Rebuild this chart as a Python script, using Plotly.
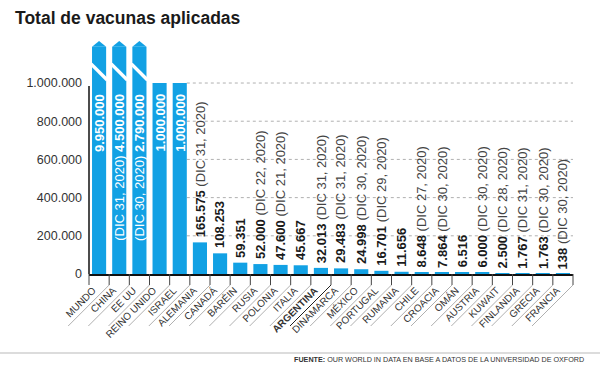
import plotly.graph_objects as go

# ---------------- data ----------------
countries = ["MUNDO", "CHINA", "EE UU", "REINO UNIDO", "ISRAEL", "ALEMANIA", "CANADÁ",
             "BARÉIN", "RUSIA", "POLONIA", "ITALIA", "ARGENTINA", "DINAMARCA", "MÉXICO",
             "PORTUGAL", "RUMANIA", "CHILE", "CROACIA", "OMÁN", "AUSTRIA", "KUWAIT",
             "FINLANDIA", "GRECIA", "FRANCIA"]
values = [9950000, 4500000, 2790000, 1000000, 1000000, 165575, 108253, 59351, 52000,
          47600, 45667, 32013, 29483, 24998, 16701, 11656, 8648, 7864, 6516, 6000,
          2500, 1767, 1763, 138]
dates = ["", "DIC 31, 2020", "DIC 30, 2020", "", "", "DIC 31, 2020", "", "",
         "DIC 22, 2020", "DIC 21, 2020", "", "DIC 31, 2020", "DIC 31, 2020",
         "DIC 30, 2020", "DIC 29, 2020", "", "DIC 27, 2020", "DIC 30, 2020", "",
         "DIC 30, 2020", "DIC 28, 2020", "DIC 31, 2020", "DIC 30, 2020", "DIC 30, 2020"]
highlight = "ARGENTINA"
y_ticks = [0, 200000, 400000, 600000, 800000, 1000000]
title = "Total de vacunas aplicadas"
source = "<b>FUENTE:</b> OUR WORLD IN DATA EN BASE A DATOS DE LA UNIVERSIDAD DE OXFORD"

# ---------------- styling ----------------
W, H = 600, 365
ML, MR, MT, MB = 89, 27, 41, 91
PW, PH = W - ML - MR, H - MT - MB
BLUE = "#12a1e4"
CAP = 1000000          # scale limit; larger values are drawn as broken bars
BROKEN_TOP = 1190000
Y_MAX = 1220000
BAR_W = 0.7
N = len(countries)
FONT = "Liberation Sans, Arial, sans-serif"
NARROW = "Liberation Sans Narrow, Arial Narrow, Liberation Sans, Arial, sans-serif"


def fmt(v):
    return f"{v:,}".replace(",", ".")


def py(px_below_axis):
    """paper y for a pixel distance below the x axis"""
    return -px_below_axis / PH


shown = [BROKEN_TOP if v > CAP else v for v in values]
idx = list(range(N))

fig = go.Figure()
fig.add_trace(go.Bar(x=idx, y=shown, marker=dict(color=BLUE, line=dict(width=0)),
                     width=BAR_W, hoverinfo="skip"))

shapes = []
annotations = []

# dotted grid lines, starting right of the tall bars
grid_start = max(i for i, v in enumerate(values) if v >= CAP) + BAR_W / 2
for t in y_ticks[1:]:
    shapes.append(dict(type="line", xref="x", yref="y", x0=grid_start, x1=N - 0.5,
                       y0=t, y1=t, layer="below",
                       line=dict(color="#b0b0b0", width=1, dash="dot")))

# broken bars: pointed top + white diagonal break
for i, v in enumerate(values):
    if v > CAP:
        h = BAR_W / 2
        tip = (Y_MAX - BROKEN_TOP)
        shapes.append(dict(type="path", xref="x", yref="y",
                           path=f"M {i-h} {BROKEN_TOP} L {i} {BROKEN_TOP+tip} L {i+h} {BROKEN_TOP} Z",
                           fillcolor=BLUE, line=dict(width=0)))
        dy_per_px = Y_MAX / PH
        dx_per_px = N / PW
        x_left, x_right = i - h - 0.05, i + h + 0.05
        span_px = (x_right - x_left) / dx_per_px
        y_right = CAP + 3 * dy_per_px
        shapes.append(dict(type="line", xref="x", yref="y",
                           x0=x_left, y0=y_right + span_px * dy_per_px, x1=x_right, y1=y_right,
                           line=dict(color="white", width=3.5)))

# value labels
for i, (v, d) in enumerate(zip(values, dates)):
    if v >= CAP:
        txt = (f"({d}) <b>{fmt(v)}</b>" if d else f"<b>{fmt(v)}</b>")
        annotations.append(dict(x=i, y=CAP, xref="x", yref="y", text=txt, textangle=-90,
                                showarrow=False, yanchor="top", xanchor="center", yshift=-9,
                                font=dict(family=FONT, size=13, color="white")))
    else:
        txt = f"<b>{fmt(v)}</b>" + (f" <span style='color:#444'>({d})</span>" if d else "")
        annotations.append(dict(x=i, y=v, xref="x", yref="y", text=txt, textangle=-90,
                                showarrow=False, yanchor="bottom", xanchor="center", yshift=3,
                                font=dict(family=FONT, size=13, color="#1a1a1a")))

# boundary ticks and leader lines under the slanted category labels
TICK_PX = 11
for i in range(-1, N):
    xb = (i + 1) / N
    shapes.append(dict(type="line", xref="paper", yref="paper", x0=xb, x1=xb,
                       y0=0, y1=py(TICK_PX), line=dict(color="#444", width=1)))
for i, c in enumerate(countries):
    x0 = (i + 1) / N
    shapes.append(dict(type="line", xref="paper", yref="paper",
                       x0=x0, y0=py(TICK_PX), x1=x0 - 41 / PW, y1=py(TICK_PX + 41),
                       line=dict(color="#222" if c == highlight else "#b0b0b0", width=1)))

# y axis line
shapes.append(dict(type="line", xref="paper", yref="y", x0=0, x1=0, y0=0, y1=CAP * 0.985,
                   line=dict(color="#111", width=1.5)))
# footer rule
shapes.append(dict(type="line", xref="paper", yref="paper",
                   x0=-ML / PW, x1=(W - ML) / PW, y0=py(353 - MT - PH), y1=py(353 - MT - PH),
                   line=dict(color="#d0d0d0", width=1.5)))

annotations.append(dict(text=source, xref="paper", yref="paper", x=(586 - ML) / PW,
                        y=py(359 - MT - PH), xanchor="right", yanchor="middle",
                        showarrow=False, font=dict(family=NARROW, size=7.2, color="#333")))

ticktext = [f"<b>{c}</b>" if c == highlight else c for c in countries]

fig.update_layout(
    width=W, height=H,
    margin=dict(l=ML, r=MR, t=MT, b=MB),
    paper_bgcolor="white", plot_bgcolor="white",
    showlegend=False,
    title=dict(text=f"<b>{title}</b>", xref="container", yref="container",
               x=15 / W, y=1 - 18 / H, xanchor="left", yanchor="middle",
               font=dict(family=FONT, size=17.5, color="#1a1a1a")),
    xaxis=dict(range=[-0.5, N - 0.5], tickmode="array", tickvals=idx, ticktext=ticktext,
               tickangle=-45, ticks="", ticklabelstandoff=5, ticklabelshift=-6,
               showline=True, linecolor="#111", linewidth=1.5,
               showgrid=False, zeroline=False,
               tickfont=dict(family=NARROW, size=10, color="#333")),
    yaxis=dict(range=[0, Y_MAX], tickmode="array", tickvals=y_ticks,
               ticktext=[fmt(t) for t in y_ticks], showgrid=False,
               zeroline=False, showline=False,
               ticks="", ticklabelstandoff=6,
               tickfont=dict(family=FONT, size=12.5, color="#333")),
    shapes=shapes,
    annotations=annotations,
    bargap=0.3,
)

fig.write_html("out.html", config={"displayModeBar": False},
               post_script="document.body.style.margin='0';")
